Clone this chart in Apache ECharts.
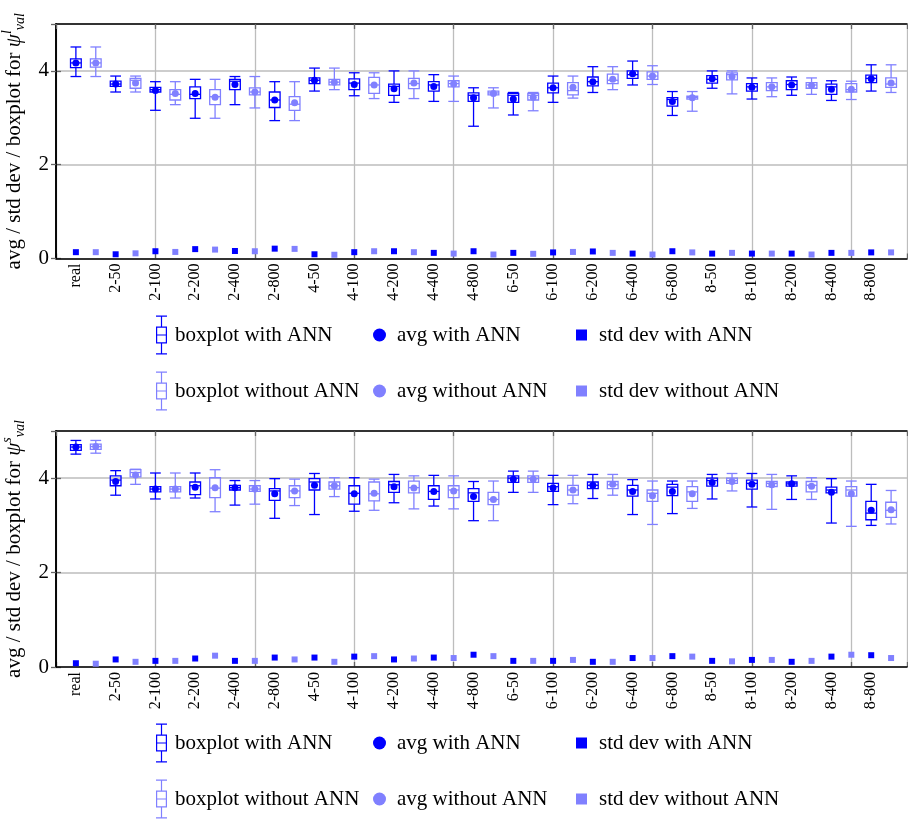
<!DOCTYPE html>
<html>
<head>
<meta charset="utf-8">
<script src="https://cdn.jsdelivr.net/npm/echarts@6/dist/echarts.min.js"></script>
<style>
html,body{margin:0;padding:0;background:#fff;}
#chart{width:908px;height:819px;}
</style>
</head>
<body>
<div id="chart"></div>
<script>
// ---------- data ----------
const categories = ['real','2-50','2-100','2-200','2-400','2-800','4-50','4-100','4-200','4-400','4-800',
  '6-50','6-100','6-200','6-400','6-800','8-50','8-100','8-200','8-400','8-800'];
const yTicks = [0, 2, 4];

// panel 1 (psi^l_val): box = [lower whisker, q1, median, q3, upper whisker]
const lAnnBox = [
  [3.88,4.07,4.17,4.255,4.51],[3.55,3.67,3.72,3.78,3.89],[3.16,3.55,3.60,3.65,3.77],[2.99,3.41,3.50,3.66,3.82],
  [3.28,3.60,3.78,3.82,3.88],[2.94,3.22,3.38,3.55,3.77],[3.57,3.73,3.80,3.85,4.06],[3.47,3.60,3.74,3.83,3.96],
  [3.33,3.48,3.67,3.72,4.00],[3.35,3.57,3.70,3.77,3.92],[2.82,3.35,3.48,3.53,3.64],[3.06,3.33,3.48,3.52,3.54],
  [3.33,3.53,3.64,3.74,3.89],[3.54,3.68,3.77,3.87,4.09],[3.70,3.84,3.92,4.00,4.21],[3.05,3.25,3.39,3.43,3.56],
  [3.63,3.74,3.82,3.90,4.00],[3.40,3.57,3.66,3.73,3.85],[3.48,3.60,3.71,3.79,3.87],[3.37,3.50,3.66,3.72,3.79],
  [3.57,3.75,3.84,3.91,4.13]];
const lAnnAvg = [4.17,3.72,3.58,3.52,3.71,3.38,3.80,3.71,3.62,3.67,3.43,3.40,3.64,3.77,3.94,3.35,3.83,3.65,3.70,3.61,3.83];
const lAnnStd = [0.135,0.09,0.155,0.20,0.16,0.21,0.09,0.135,0.155,0.12,0.155,0.12,0.13,0.15,0.105,0.155,0.105,0.105,0.105,0.12,0.13];

const lNoBox = [
  [3.88,4.08,4.17,4.255,4.51],[3.55,3.63,3.80,3.84,3.89],[3.28,3.38,3.50,3.60,3.77],[2.99,3.28,3.45,3.60,3.82],
  [3.21,3.49,3.55,3.64,3.88],[2.94,3.16,3.29,3.45,3.77],[3.60,3.70,3.76,3.82,4.06],[3.41,3.52,3.70,3.86,3.96],
  [3.41,3.62,3.73,3.84,4.00],[3.35,3.66,3.73,3.79,3.89],[3.21,3.49,3.53,3.57,3.64],[3.15,3.38,3.48,3.52,3.54],
  [3.42,3.49,3.58,3.75,3.89],[3.60,3.73,3.80,3.93,4.09],[3.71,3.82,3.89,3.98,4.11],[3.14,3.40,3.43,3.46,3.56],
  [3.51,3.81,3.92,3.96,4.00],[3.45,3.58,3.66,3.75,3.85],[3.50,3.63,3.70,3.75,3.85],[3.39,3.55,3.60,3.73,3.78],
  [3.54,3.65,3.72,3.85,4.13]];
const lNoAvg = [4.17,3.74,3.52,3.44,3.55,3.32,3.76,3.70,3.74,3.72,3.52,3.44,3.65,3.82,3.89,3.43,3.88,3.66,3.69,3.61,3.74];
const lNoStd = [0.135,0.11,0.14,0.19,0.155,0.205,0.08,0.155,0.135,0.105,0.085,0.10,0.14,0.12,0.085,0.13,0.12,0.105,0.085,0.12,0.13];

// panel 2 (psi^s_val)
const sAnnBox = [
  [4.51,4.59,4.66,4.71,4.80],[3.64,3.84,3.96,4.05,4.16],[3.56,3.71,3.77,3.82,4.11],[3.58,3.65,3.84,3.92,4.11],
  [3.43,3.75,3.80,3.85,3.95],[3.15,3.53,3.73,3.78,3.99],[3.23,3.75,3.92,3.99,4.10],[3.30,3.45,3.68,3.84,4.01],
  [3.48,3.70,3.86,3.93,4.08],[3.41,3.55,3.72,3.84,4.06],[3.10,3.51,3.69,3.78,3.93],[3.70,3.91,4.00,4.05,4.15],
  [3.44,3.72,3.82,3.89,4.06],[3.57,3.78,3.85,3.92,4.08],[3.23,3.62,3.75,3.85,3.97],[3.25,3.63,3.81,3.87,3.94],
  [3.56,3.83,3.95,4.00,4.08],[3.39,3.77,3.89,3.96,4.10],[3.55,3.83,3.88,3.92,4.05],[3.05,3.69,3.75,3.81,3.99],
  [3.00,3.12,3.26,3.51,3.87]];
const sAnnAvg = [4.66,3.93,3.77,3.81,3.80,3.67,3.85,3.67,3.82,3.72,3.61,3.98,3.80,3.85,3.72,3.72,3.91,3.87,3.88,3.70,3.32];
const sAnnStd = [0.08,0.16,0.13,0.18,0.13,0.20,0.20,0.22,0.16,0.20,0.26,0.13,0.13,0.11,0.19,0.23,0.13,0.15,0.11,0.22,0.25];

const sNoBox = [
  [4.53,4.61,4.67,4.72,4.80],[3.87,4.03,4.12,4.18,4.19],[3.58,3.71,3.77,3.82,4.11],[3.29,3.59,3.79,4.01,4.18],
  [3.45,3.72,3.77,3.84,3.95],[3.42,3.59,3.73,3.84,3.98],[3.61,3.77,3.84,3.92,4.01],[3.32,3.52,3.67,3.92,3.98],
  [3.35,3.69,3.80,3.94,4.05],[3.35,3.59,3.75,3.84,4.05],[3.10,3.44,3.55,3.70,3.94],[3.70,3.91,3.99,4.05,4.15],
  [3.46,3.64,3.75,3.85,4.06],[3.64,3.78,3.86,3.93,4.08],[3.02,3.51,3.68,3.75,3.94],[3.36,3.51,3.71,3.82,3.94],
  [3.73,3.89,3.95,4.00,4.10],[3.34,3.82,3.89,3.93,4.08],[3.55,3.71,3.85,3.93,4.01],[2.98,3.62,3.75,3.82,3.94],
  [3.03,3.17,3.32,3.49,3.74]];
const sNoAvg = [4.67,4.07,3.77,3.80,3.77,3.73,3.84,3.68,3.79,3.73,3.55,3.98,3.75,3.87,3.63,3.67,3.93,3.86,3.83,3.67,3.33];
const sNoStd = [0.07,0.11,0.13,0.24,0.13,0.16,0.11,0.23,0.18,0.19,0.23,0.13,0.15,0.11,0.19,0.22,0.12,0.15,0.13,0.26,0.19];

// ---------- styling ----------
const C_ANN = '#0000ff';
const C_NO = '#8080ff';
const SERIF = 'Liberation Serif';
const X_MAX = 42.8;

const BOX_ICON = 'path://M0 0H11V1.2H0Z M4.9 0H6.1V11H4.9Z M0 11H11V12.2H0Z M0 26.8H11V28H0Z M0 11H1.2V28H0Z M9.8 11H11V28H9.8Z M0 18.9H11V20.1H0Z M4.9 28H6.1V39H4.9Z M0 37.8H11V39H0Z';

function boxRenderer(color) {
  return function (params, api) {
    const x = api.value(0);
    const lo = api.coord([x, api.value(1)]);
    const q1 = api.coord([x, api.value(2)]);
    const md = api.coord([x, api.value(3)]);
    const q3 = api.coord([x, api.value(4)]);
    const hi = api.coord([x, api.value(5)]);
    const hw = api.size([0.27, 0])[0];
    const st = { stroke: color, lineWidth: 1.3, fill: 'none' };
    const cx = lo[0];
    return {
      type: 'group',
      children: [
        { type: 'line', shape: { x1: cx, y1: lo[1], x2: cx, y2: q1[1] }, style: st },
        { type: 'line', shape: { x1: cx, y1: q3[1], x2: cx, y2: hi[1] }, style: st },
        { type: 'line', shape: { x1: cx - hw, y1: lo[1], x2: cx + hw, y2: lo[1] }, style: st },
        { type: 'line', shape: { x1: cx - hw, y1: hi[1], x2: cx + hw, y2: hi[1] }, style: st },
        { type: 'rect', shape: { x: cx - hw, y: q3[1], width: 2 * hw, height: q1[1] - q3[1] }, style: st },
        { type: 'line', shape: { x1: cx - hw, y1: md[1], x2: cx + hw, y2: md[1] }, style: st }
      ]
    };
  };
}

function boxData(arr, offset) {
  return arr.map((b, i) => [2 * i + offset].concat(b));
}
function pointData(arr, offset) {
  return arr.map((v, i) => [2 * i + offset, v]);
}

const grids = [
  { left: 56, top: 24, width: 851, height: 234.5, containLabel: false, outerBoundsMode: 'none' },
  { left: 56, top: 431, width: 851, height: 236, containLabel: false, outerBoundsMode: 'none' }
];

const xAxes = [], yAxes = [], series = [];
const panels = [
  { sym: 'l', annBox: lAnnBox, annAvg: lAnnAvg, annStd: lAnnStd, noBox: lNoBox, noAvg: lNoAvg, noStd: lNoStd },
  { sym: 's', annBox: sAnnBox, annAvg: sAnnAvg, annStd: sAnnStd, noBox: sNoBox, noAvg: sNoAvg, noStd: sNoStd }
];

panels.forEach((p, k) => {
  // label axis (bottom, frame line)
  xAxes.push({
    gridIndex: k, type: 'value', position: 'bottom', min: 0, max: X_MAX, interval: 1, z: 3,
    axisLine: { show: true, lineStyle: { color: '#000', width: 1.6 } },
    axisTick: { show: false },
    splitLine: { show: false },
    axisLabel: {
      rotate: 90, margin: 5, fontFamily: SERIF, fontSize: 16, color: '#000',
      showMinLabel: true, showMaxLabel: true,
      formatter: v => (Number.isInteger(v) && v % 2 === 1) ? categories[(v - 1) / 2] : ''
    }
  });
  // grid-line axis (bottom, ticks inside)
  xAxes.push({
    gridIndex: k, type: 'value', position: 'bottom', min: 0, max: X_MAX, interval: 5, z: 0,
    axisLine: { show: false },
    axisTick: { show: true, inside: true, length: 5, lineStyle: { color: '#666', width: 1.3 } },
    axisLabel: { show: false },
    splitLine: { show: true, lineStyle: { color: '#bdbdbd', width: 1.3 } }
  });
  // top frame axis
  xAxes.push({
    gridIndex: k, type: 'value', position: 'top', min: 0, max: X_MAX, interval: 5, z: 3,
    axisLine: { show: true, lineStyle: { color: '#000', width: 1.6 } },
    axisTick: { show: true, inside: true, length: 5, lineStyle: { color: '#666', width: 1.3 } },
    axisLabel: { show: false },
    splitLine: { show: false }
  });
  yAxes.push({
    gridIndex: k, type: 'value', position: 'left', min: 0, max: 5, interval: 2, z: 1,
    name: 'avg / std dev / boxplot for {psi|ψ}{sup|' + p.sym + '}{sub|val}',
    nameLocation: 'middle', nameRotate: 90, nameGap: 22,
    nameTextStyle: {
      fontFamily: SERIF, fontSize: 21, color: '#000', lineHeight: 27,
      rich: {
        psi: { fontFamily: SERIF, fontSize: 21, fontStyle: 'italic', color: '#000', lineHeight: 27 },
        sup: { fontFamily: SERIF, fontSize: 14, fontStyle: 'italic', color: '#000', lineHeight: 14, verticalAlign: 'top' },
        sub: { fontFamily: SERIF, fontSize: 14, fontStyle: 'italic', color: '#000', lineHeight: 14, verticalAlign: 'bottom' }
      }
    },
    axisLine: { show: true, lineStyle: { color: '#000', width: 1.6 } },
    axisTick: { show: true, inside: true, length: 5, lineStyle: { color: '#666', width: 1.3 } },
    axisLabel: {
      fontFamily: SERIF, fontSize: 21, color: '#000', margin: 7, showMaxLabel: false,
      formatter: v => (yTicks.indexOf(v) >= 0 ? String(v) : '')
    },
    splitLine: { show: true, lineStyle: { color: '#bdbdbd', width: 1.5 } }
  });
  yAxes.push({
    gridIndex: k, type: 'value', position: 'right', min: 0, max: 5, interval: 2, z: 3,
    axisLine: { show: true, lineStyle: { color: '#000', width: 1.6 } },
    axisTick: { show: true, inside: true, length: 5, lineStyle: { color: '#666', width: 1.3 } },
    axisLabel: { show: false },
    splitLine: { show: false }
  });

  const xi = 3 * k, yi = 2 * k;
  series.push({
    name: 'boxplot with ANN', type: 'custom', xAxisIndex: xi, yAxisIndex: yi,
    itemStyle: { color: C_ANN }, renderItem: boxRenderer(C_ANN),
    encode: { x: 0, y: [1, 2, 3, 4, 5] }, data: boxData(p.annBox, 1), z: 2
  });
  series.push({
    name: 'boxplot without ANN', type: 'custom', xAxisIndex: xi, yAxisIndex: yi,
    itemStyle: { color: C_NO }, renderItem: boxRenderer(C_NO),
    encode: { x: 0, y: [1, 2, 3, 4, 5] }, data: boxData(p.noBox, 2), z: 2
  });
  series.push({
    name: 'avg with ANN', type: 'scatter', xAxisIndex: xi, yAxisIndex: yi,
    symbol: 'circle', symbolSize: 7, itemStyle: { color: C_ANN, opacity: 1 },
    data: pointData(p.annAvg, 1), z: 4
  });
  series.push({
    name: 'avg without ANN', type: 'scatter', xAxisIndex: xi, yAxisIndex: yi,
    symbol: 'circle', symbolSize: 7, itemStyle: { color: C_NO, opacity: 1 },
    data: pointData(p.noAvg, 2), z: 4
  });
  series.push({
    name: 'std dev with ANN', type: 'scatter', xAxisIndex: xi, yAxisIndex: yi,
    symbol: 'rect', symbolSize: 6, itemStyle: { color: C_ANN, opacity: 1 },
    data: pointData(p.annStd, 1), z: 4
  });
  series.push({
    name: 'std dev without ANN', type: 'scatter', xAxisIndex: xi, yAxisIndex: yi,
    symbol: 'rect', symbolSize: 6, itemStyle: { color: C_NO, opacity: 1 },
    data: pointData(p.noStd, 2), z: 4
  });
});

// ---------- legends ----------
const legendText = { fontFamily: SERIF, fontSize: 21, color: '#000', lineHeight: 22 };
const rowCenters = [[335, 391], [743, 799]];
const legends = [];
rowCenters.forEach(rc => {
  legends.push({
    orient: 'vertical', left: 156, top: rc[0] - 19.5, padding: 0,
    itemWidth: 11, itemHeight: 39, itemGap: (rc[1] - rc[0]) - 39, selectedMode: false,
    textStyle: Object.assign({ padding: [0, 0, 0, 3] }, legendText),
    data: [
      { name: 'boxplot with ANN', icon: BOX_ICON, itemStyle: { color: C_ANN, borderWidth: 0 } },
      { name: 'boxplot without ANN', icon: BOX_ICON, itemStyle: { color: C_NO, borderWidth: 0 } }
    ]
  });
  legends.push({
    orient: 'vertical', left: 373, top: rc[0] - 11, padding: 0,
    itemWidth: 13, itemHeight: 13, itemGap: (rc[1] - rc[0]) - 22, selectedMode: false,
    textStyle: Object.assign({ padding: [0, 0, 0, 6] }, legendText),
    data: [
      { name: 'avg with ANN', icon: 'circle', itemStyle: { color: C_ANN, borderWidth: 0 } },
      { name: 'avg without ANN', icon: 'circle', itemStyle: { color: C_NO, borderWidth: 0 } }
    ]
  });
  legends.push({
    orient: 'vertical', left: 576, top: rc[0] - 11, padding: 0,
    itemWidth: 11, itemHeight: 11, itemGap: (rc[1] - rc[0]) - 22, selectedMode: false,
    textStyle: Object.assign({ padding: [0, 0, 0, 7] }, legendText),
    data: [
      { name: 'std dev with ANN', icon: 'rect', itemStyle: { color: C_ANN, borderWidth: 0 } },
      { name: 'std dev without ANN', icon: 'rect', itemStyle: { color: C_NO, borderWidth: 0 } }
    ]
  });
});

const chart = echarts.init(document.getElementById('chart'), null, { renderer: 'canvas' });
chart.setOption({
  animation: false,
  backgroundColor: '#fff',
  grid: grids,
  xAxis: xAxes,
  yAxis: yAxes,
  legend: legends,
  series: series
});
</script>
</body>
</html>
